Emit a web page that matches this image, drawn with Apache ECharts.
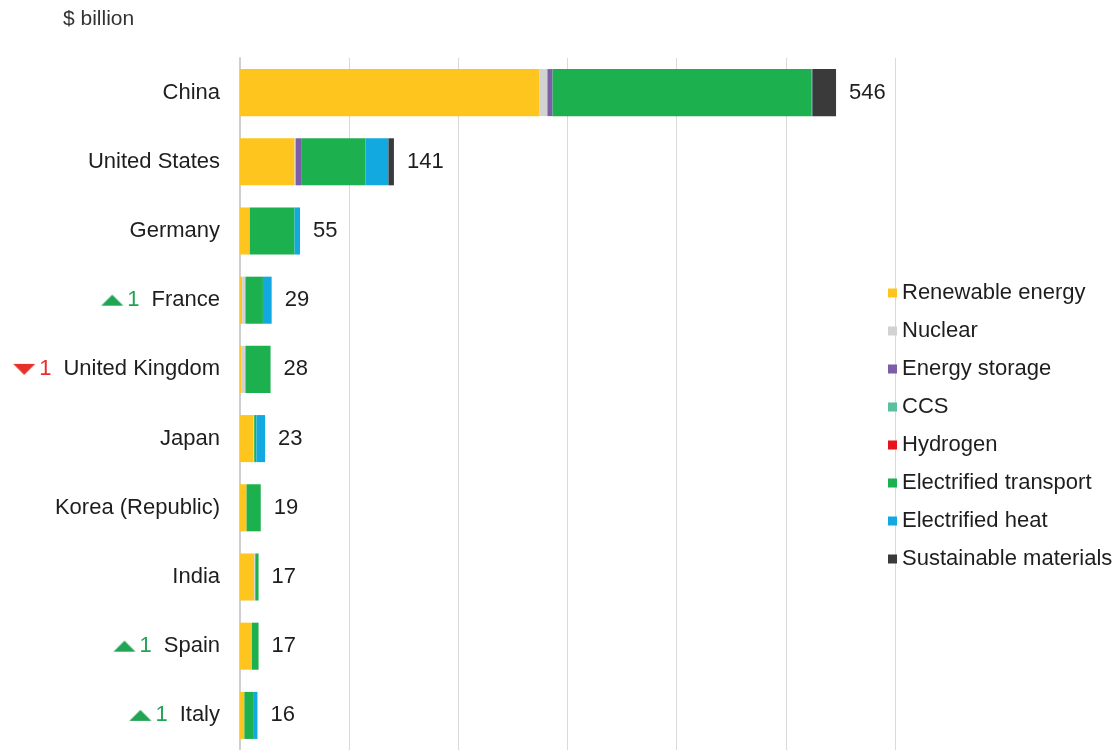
<!DOCTYPE html>
<html><head><meta charset="utf-8">
<script src="https://cdn.jsdelivr.net/npm/echarts@6/dist/echarts.min.js"></script>
<style>html,body{margin:0;padding:0;background:#fff}#c{width:1119px;height:750px}</style>
</head><body><div id="c"></div>
<script>
const categories = ['China','United States','Germany','France','United Kingdom','Japan','Korea (Republic)','India','Spain','Italy'];
const rankChange = [0,0,0,1,-1,0,0,0,1,1];
const seriesNames = ['Renewable energy','Nuclear','Energy storage','CCS','Hydrogen','Electrified transport','Electrified heat','Sustainable materials'];
const renewable = [274,50,9,2,1,12,6,13,11,4];
const nuclear   = [7.6,1,0,3,4,1,0,1,0,0];
const storage   = [4.7,5,0,0,0,0,0,0,0,0];
const ccs       = [0,0,0,0,0,0,0,0,0,0];
const hydrogen  = [0,0,0,0,0,0,0,0,0,0];
const transport = [237,59,41,16,23,2,13,3,6,8];
const heat      = [1,21,5,8,0,8,0,0,0,4];
const materials = [21.7,5,0,0,0,0,0,0,0,0];
const totals    = [546,141,55,29,28,23,19,17,17,16];
const colors = ['#FDC51E','#D2D2D2','#7B5EA7','#5BBFA0','#E8131B','#1DB04E','#12A9E0','#3A3A3A'];

function tri(up, color){
  const cv = document.createElement('canvas'); cv.width = 22; cv.height = 11;
  const g = cv.getContext('2d'); g.fillStyle = color; g.beginPath();
  if (up){ g.moveTo(0,11); g.lineTo(11,0); g.lineTo(22,11); }
  else { g.moveTo(0,0); g.lineTo(22,0); g.lineTo(11,11); }
  g.closePath(); g.fill(); return cv;
}
const upImg = tri(true,'#22A455'), downImg = tri(false,'#E8302A');

const FS = 22;
const data = [renewable,nuclear,storage,ccs,hydrogen,transport,heat,materials];
const chart = echarts.init(document.getElementById('c'));
const series = seriesNames.map((n,i)=>({
  name:n, type:'bar', stack:'t', data:data[i], barCategoryGap:'32%',
  itemStyle:{color:colors[i]},
  label: i===7 ? {show:true, position:'right', distance:13, fontSize:FS, color:'#1e1e1e', fontFamily:'Liberation Sans',
    formatter:(p)=>String(totals[p.dataIndex])} : {show:false}
}));
chart.setOption({
  animation:false,
  textStyle:{fontFamily:'Liberation Sans'},
  title:{text:'$ billion', left:58, top:4, textStyle:{fontSize:21, fontWeight:'normal', color:'#333', fontFamily:'Liberation Sans'}},
  grid:{left:240, top:58, width:655, height:694, containLabel:false},
  legend:{orient:'vertical', left:883, top:277, itemWidth:9, itemHeight:9, itemGap:16, icon:'rect',
    data:seriesNames, textStyle:{fontSize:FS, color:'#1e1e1e', fontFamily:'Liberation Sans'}},
  xAxis:{type:'value', min:0, max:600, interval:100, axisLabel:{show:false}, axisLine:{show:false}, axisTick:{show:false},
    splitLine:{lineStyle:{color:'#d9d9d9', width:1}}},
  yAxis:{type:'category', inverse:true, data:categories, axisTick:{show:false},
    axisLine:{lineStyle:{color:'#cfcfcf', width:2}},
    axisLabel:{margin:20, fontSize:FS, color:'#1e1e1e', fontFamily:'Liberation Sans',
      formatter:(v,i)=>{const r=rankChange[i]; if(!r) return v;
        return (r>0?'{up|}':'{dn|}')+(r>0?'{g|1}':'{r|1}')+v;},
      rich:{up:{backgroundColor:{image:upImg}, width:22, height:11},
            dn:{backgroundColor:{image:downImg}, width:22, height:11},
            g:{color:'#22A455', fontSize:FS, padding:[0,12,0,4]},
            r:{color:'#E8302A', fontSize:FS, padding:[0,12,0,4]}}}},
  series
});
</script></body></html>
